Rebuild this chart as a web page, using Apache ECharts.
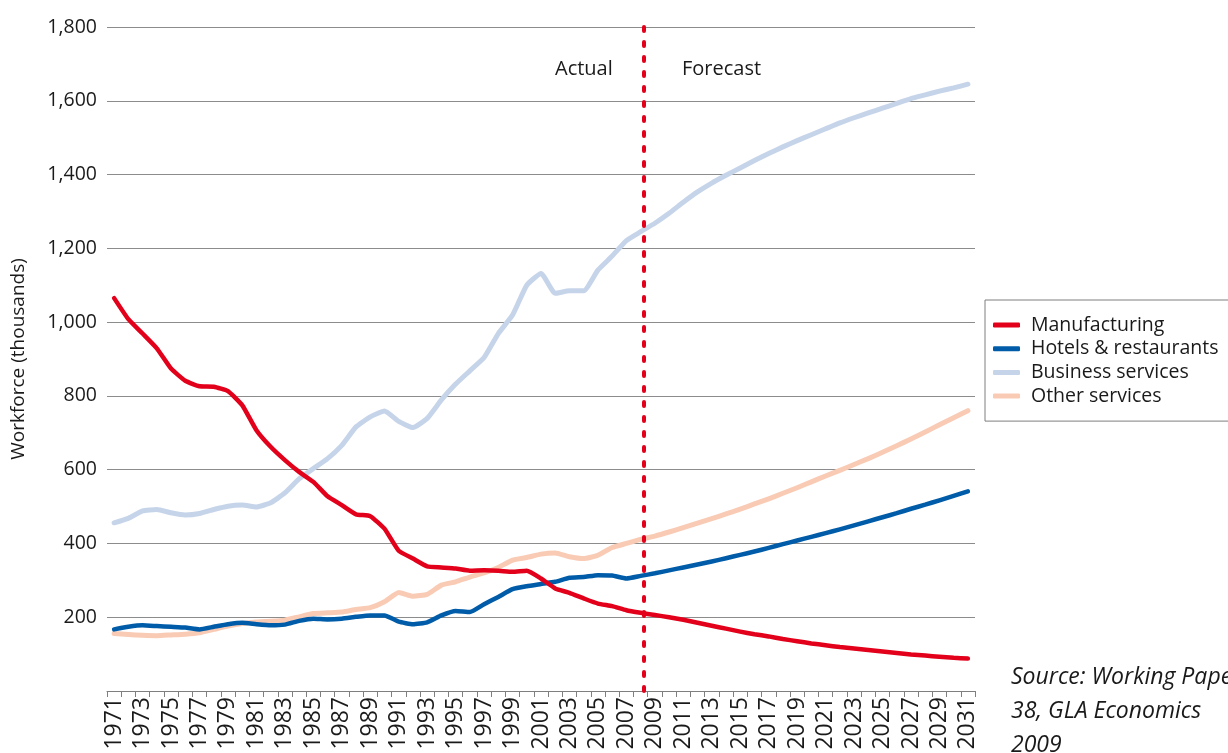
<!DOCTYPE html>
<html>
<head>
<meta charset="utf-8">
<script src="https://cdn.jsdelivr.net/npm/echarts@6/dist/echarts.min.js"></script>
<style>
html,body{margin:0;padding:0;background:#fff;}
#chart{width:1228px;height:753px;}
</style>
</head>
<body>
<div id="chart"></div>
<script>
var years = [];
for (var y = 1971; y <= 2031; y++) years.push(String(y));

var manufacturing = [1065,1008,969,929,874,841,826,825,813,775,707,662,626,594,567,528,504,479,474,440,380,359,338,335,332,326,327,326,323,326,305,278,266,251,237,230,219,212,
  206,200,193,185,177,169,161,154,148,141,135,129,124,119,115,111,107,103,99,96,93,90,88];
var hotels = [167,174,178,176,174,172,167,174,181,185,181,178,180,190,196,194,196,201,205,205,188,181,186,205,217,214,235,255,276,284,290,296,307,309,314,313,305,312,
  319,327,335,343,351,360,369,378,388,398,408,418,428,438,449,460,471,482,494,505,517,529,541];
var business = [456,468,488,492,483,477,481,492,501,504,499,510,537,575,603,630,666,716,743,759,731,714,739,789,832,868,904,969,1019,1100,1132,1078,1085,1085,1141,1179,1221,1245,
  1268,1295,1325,1353,1377,1398,1418,1438,1457,1475,1492,1508,1524,1540,1554,1567,1580,1593,1606,1616,1626,1635,1645];
var other = [156,153,151,150,152,154,158,167,176,183,187,189,192,201,210,212,214,221,226,242,267,257,262,287,296,309,320,335,355,362,371,374,364,359,368,389,400,411,
  420,431,443,455,467,480,493,507,521,536,551,567,583,598,614,630,647,665,683,702,722,741,760];

var seriesNames = ['Manufacturing','Hotels & restaurants','Business services','Other services'];
var seriesColors = ['#e2001a','#005ca8','#c6d4ea','#f9cbb5'];
var seriesData = [manufacturing, hotels, business, other];
var seriesWidths = [4.5, 4.5, 5, 5];
var forecastBoundary = 2008.25;
var dividerLabels = ['Actual','Forecast'];
var sourceLines = ['Source: Working Paper', '38, GLA Economics', '2009'];

var font = 'Open Sans';
var chart = echarts.init(document.getElementById('chart'), null, {renderer:'canvas'});

var series = seriesNames.map(function(n, i){
  return {
    name: n, type: 'line', data: seriesData[i], xAxisIndex: 0, yAxisIndex: 0,
    symbol: 'none', smooth: 0.15, z: 3 + (3 - i),
    lineStyle: {color: seriesColors[i], width: seriesWidths[i], cap: 'round', join: 'round'},
    itemStyle: {color: seriesColors[i]}
  };
});
series.push({
  type: 'line', xAxisIndex: 1, yAxisIndex: 0, data: [], silent: true, z: 10,
  markLine: {
    silent: true, symbol: ['none','none'],
    label: {show: false},
    lineStyle: {color: '#e2001a', width: 4, type: [4, 11], cap: 'round'},
    data: [{xAxis: forecastBoundary}]
  }
});

chart.setOption({
  animation: false,
  backgroundColor: '#fff',
  textStyle: {fontFamily: font},
  grid: {left: 107, right: 253, top: 27, bottom: 62, containLabel: false},
  legend: {
    orient: 'vertical', left: 985, top: 300,
    data: seriesNames,
    padding: [15, 30, 15, 8],
    borderColor: '#7f7f7f', borderWidth: 1, borderRadius: 0,
    backgroundColor: '#fff',
    itemWidth: 27, itemHeight: 5, itemGap: 3.7,
    icon: 'roundRect',
    textStyle: {fontFamily: font, fontSize: 19.5, color: '#1a1a1a', lineHeight: 20, padding: [0,0,0,6]}
  },
  xAxis: [{
    type: 'category', data: years, boundaryGap: true,
    axisLine: {lineStyle: {color: '#7f7f7f', width: 1}},
    axisTick: {show: true, interval: 0, length: 6, lineStyle: {color: '#7f7f7f'}},
    axisLabel: {interval: 1, rotate: 90, fontSize: 23, color: '#1a1a1a', margin: 6, fontFamily: font},
    splitLine: {show: false}
  }, {
    type: 'value', min: 1970.5, max: 2031.5, show: false,
    axisLine: {show: false}, splitLine: {show: false}
  }],
  yAxis: [{
    type: 'value', min: 0, max: 1800, interval: 200,
    name: 'Workforce (thousands)', nameLocation: 'middle', nameGap: 79, nameRotate: 90,
    nameTextStyle: {fontSize: 19, color: '#1a1a1a', fontFamily: font},
    axisLine: {show: false}, axisTick: {show: false},
    axisLabel: {
      fontSize: 19.5, color: '#1a1a1a', margin: 10, fontFamily: font,
      formatter: function(v){ return v === 0 ? '' : v.toLocaleString('en-US'); }
    },
    splitLine: {lineStyle: {color: '#8c8c8c', width: 1}}
  }],
  graphic: [
    {type: 'text', left: 555, top: 59, style: {text: dividerLabels[0], font: '20px "' + font + '"', fill: '#1a1a1a'}},
    {type: 'text', left: 682, top: 59, style: {text: dividerLabels[1], font: '20px "' + font + '"', fill: '#1a1a1a'}},
    {type: 'text', left: 1011, top: 660, style: {text: sourceLines.join('\n'), font: 'italic 23px "' + font + '"', fill: '#1a1a1a', lineHeight: 34}}
  ],
  series: series
});
</script>
</body>
</html>
